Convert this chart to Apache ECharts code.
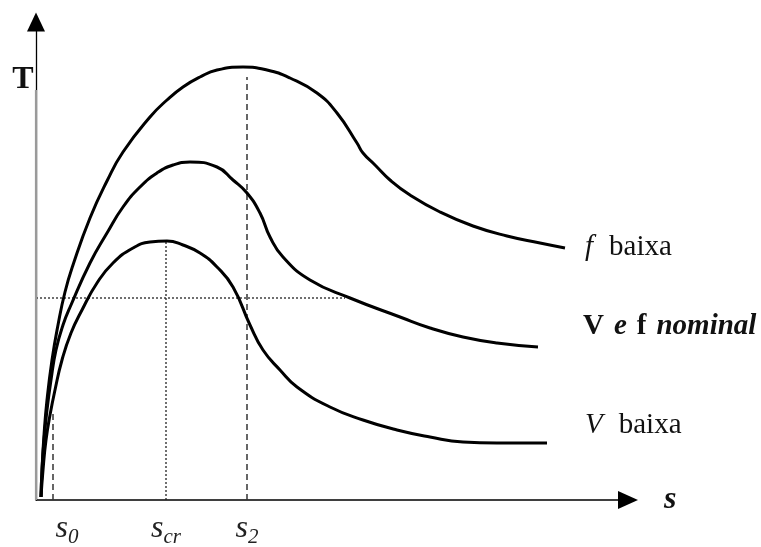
<!DOCTYPE html>
<html>
<head>
<meta charset="utf-8">
<script src="https://cdn.jsdelivr.net/npm/echarts@6/dist/echarts.min.js"></script>
<style>
  html, body { margin: 0; padding: 0; background: #fff; }
  #chart { width: 761px; height: 547px; }
</style>
</head>
<body>
<div id="chart"></div>
<script>
// Torque (T) versus slip (s) for three supply conditions.
// Values are [slip, torque] in arbitrary units.
const curveFLow = [[5,3],[6,30],[8,65],[11,100],[16,140],[22,175],[29,208],[37,235],[54,282],[71,319],[87,348],[114,383],[131,400],[147,413],[164,423],[181,430],[207,433],[231,430],[254,422],[281,407],[301,387],[321,357],[327,347],[339,335],[354,320],[374,305],[404,288],[437,274],[471,264],[504,257],[529,252]];
const curveNominal = [[5,3],[6,30],[8,60],[11,90],[15,120],[20,150],[27,175],[35,195],[54,237],[71,267],[87,293],[104,313],[121,327],[137,335],[154,338],[181,333],[197,320],[211,307],[224,287],[234,263],[247,243],[274,220],[314,202],[364,183],[394,172],[427,163],[461,157],[502,153]];
const curveVLow = [[5,3],[7,30],[10,60],[14,85],[19,110],[26,140],[35,167],[46,190],[61,217],[77,237],[97,252],[114,258],[131,259],[147,255],[164,247],[181,233],[197,213],[214,175],[227,150],[244,130],[261,113],[294,93],[327,80],[361,70],[394,63],[427,58],[461,57],[511,57]];

// Marked slip values on the s axis and the height each guide reaches
const slipTicks = [17, 130, 211];
const slipSubscripts = ['0', 'cr', '2'];
const guideHeights = [90, 259, 423];
// Reference torque level (horizontal dotted guide) and its extent in s
const refTorque = 202;
const refTorqueSlipEnd = 309;

const serif = 'Liberation Serif';
const ink = '#111';
const chart = echarts.init(document.getElementById('chart'));

function curve(name, data, label, distance, offset) {
  return {
    name, type: 'line', data, smooth: 0.5, symbol: 'none', silent: true,
    lineStyle: { color: '#000', width: 3 }, z: 5,
    endLabel: {
      show: true, formatter: label, distance, offset,
      fontFamily: serif, fontSize: 29, color: ink,
      rich: {
        r: { fontFamily: serif, fontSize: 29, color: ink },
        i: { fontFamily: serif, fontSize: 29, fontStyle: 'italic', color: ink, padding: [0, 16, 0, 0] },
        b: { fontFamily: serif, fontSize: 29, fontWeight: 'bold', color: ink },
        bi: { fontFamily: serif, fontSize: 29, fontWeight: 'bold', fontStyle: 'italic', color: ink },
        gap: { width: 10 }
      }
    }
  };
}

function guide(data, type, color, width) {
  return {
    type: 'line', data, symbol: 'none', silent: true, z: 3,
    lineStyle: { color, width, type }
  };
}

const series = [
  curve('f baixa', curveFLow, '{i|f}{r|baixa}', 20, [0, -1]),
  curve('V e f nominal', curveNominal, '{b|V}{gap|}{bi|e}{gap|}{b|f}{gap|}{bi|nominal}', 45, [0, -20]),
  curve('V baixa', curveVLow, '{i|V}{r|baixa}', 38, [0, -18]),
  guide([[slipTicks[0], 0], [slipTicks[0], guideHeights[0]]], [6, 4], '#333', 1.5),
  guide([[slipTicks[1], 0], [slipTicks[1], guideHeights[1]]], [2, 2], '#222', 1.3),
  guide([[slipTicks[2], 0], [slipTicks[2], guideHeights[2]]], [6, 4], '#333', 1.5),
  guide([[0, refTorque], [refTorqueSlipEnd, refTorque]], [2, 2], '#222', 1.3),
  // lighter lower part of the torque axis
  Object.assign(guide([[0, 0], [0, 410]], 'solid', '#9a9a9a', 2.2), { clip: false, z: 4 })
];

// left padding per slip label so each sits where it is printed
const labelPads = { '0': 28, 'cr': 0, '2': 0 };

chart.setOption({
  animation: false,
  backgroundColor: '#fff',
  textStyle: { fontFamily: serif },
  grid: { left: 36, right: 133, top: 22, bottom: 47, outerBoundsMode: 'none', containLabel: false },
  xAxis: {
    type: 'value', min: 0, max: 592,
    splitLine: { show: false },
    axisTick: { show: false },
    axisLine: { show: true, onZero: false, lineStyle: { color: '#000', width: 1.5 },
      symbol: ['none', 'triangle'], symbolSize: [18, 20] },
    name: 's', nameLocation: 'end', nameGap: 36,
    nameTextStyle: { fontFamily: serif, fontSize: 32, fontWeight: 'bold', fontStyle: 'italic', color: ink, verticalAlign: 'middle', padding: [0, 0, 6, 0] },
    axisLabel: {
      show: true, customValues: slipTicks, margin: 13, hideOverlap: false,
      formatter: (v) => {
        const sub = slipSubscripts[slipTicks.indexOf(v)];
        return '{pad' + labelPads[sub] + '|}{s|s}{sub|' + sub + '}';
      },
      rich: {
        pad0: { width: 0 },
        pad28: { width: 28 },
        s: { fontFamily: serif, fontSize: 32, fontStyle: 'italic', color: '#222', verticalAlign: 'bottom' },
        sub: { fontFamily: serif, fontSize: 21, fontStyle: 'italic', color: '#222', verticalAlign: 'bottom', padding: [0, 0, -3, 0] }
      }
    }
  },
  yAxis: {
    type: 'value', min: 0, max: 478,
    splitLine: { show: false },
    axisTick: { show: false },
    axisLabel: { show: false },
    axisLine: { show: true, onZero: false, lineStyle: { color: '#000', width: 1.3 },
      symbol: ['none', 'triangle'], symbolSize: [18, 19] }
  },
  graphic: [{
    type: 'text', x: 23, y: 80, silent: true,
    style: { text: 'T', font: 'bold 32px "Liberation Serif"', fill: ink, align: 'center', verticalAlign: 'middle' }
  }],
  series
});
</script>
</body>
</html>
